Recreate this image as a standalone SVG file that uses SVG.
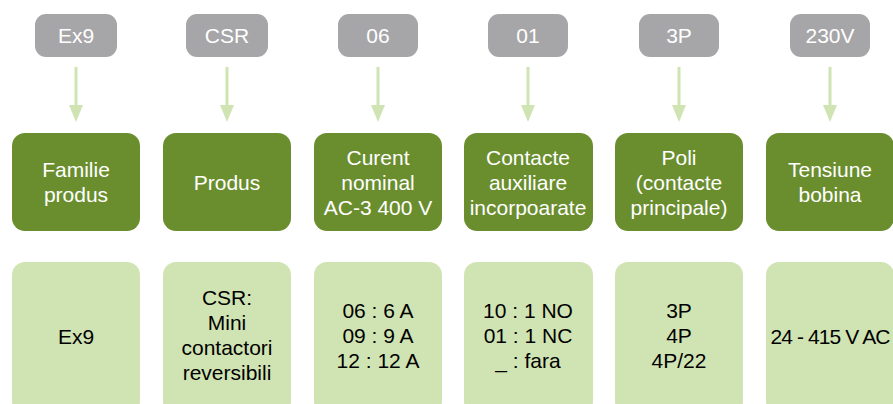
<svg xmlns="http://www.w3.org/2000/svg" width="893" height="404" viewBox="0 0 893 404">
<style>
.pill{fill:#A6A6A9}
.dark{fill:#6A8E2E}
.light{fill:#D0E4B3}
.pt{font-family:"Liberation Sans",Arial,sans-serif;font-size:21px;fill:#FFFFFF;text-anchor:middle}
.dt{font-family:"Liberation Sans",Arial,sans-serif;font-size:21px;fill:#FFFFFF;text-anchor:middle}
.lt{font-family:"Liberation Sans",Arial,sans-serif;font-size:21px;fill:#000000;text-anchor:middle}
.conn line{stroke:#D0E4B3;stroke-width:3}
.conn polygon{fill:#D0E4B3}
</style>
<rect width="893" height="404" fill="#FFFFFF"/>
<g id="connectors" class="conn">
<line x1="76" y1="67" x2="76" y2="107"/><polygon points="69,105 83,105 76,122"/>
<line x1="227" y1="67" x2="227" y2="107"/><polygon points="220,105 234,105 227,122"/>
<line x1="378" y1="67" x2="378" y2="107"/><polygon points="371,105 385,105 378,122"/>
<line x1="528" y1="67" x2="528" y2="107"/><polygon points="521,105 535,105 528,122"/>
<line x1="679" y1="67" x2="679" y2="107"/><polygon points="672,105 686,105 679,122"/>
<line x1="830" y1="67" x2="830" y2="107"/><polygon points="823,105 837,105 830,122"/>
</g>
<g id="pill-ex9"><rect class="pill" x="35" y="14" width="82" height="43" rx="11"/><text class="pt" x="76" y="43">Ex9</text></g>
<g id="pill-csr"><rect class="pill" x="186" y="14" width="82" height="43" rx="11"/><text class="pt" x="227" y="43">CSR</text></g>
<g id="pill-06"><rect class="pill" x="338" y="14" width="80" height="43" rx="11"/><text class="pt" x="378" y="43">06</text></g>
<g id="pill-01"><rect class="pill" x="488" y="14" width="80" height="43" rx="11"/><text class="pt" x="528" y="43">01</text></g>
<g id="pill-3p"><rect class="pill" x="639" y="14" width="80" height="43" rx="11"/><text class="pt" x="679" y="43">3P</text></g>
<g id="pill-230v"><rect class="pill" x="790" y="14" width="80" height="43" rx="11"/><text class="pt" x="830" y="43">230V</text></g>

<g id="head-familie"><rect class="dark" x="12" y="133" width="128" height="98" rx="13"/><text class="dt" x="76" y="177">Familie</text><text class="dt" x="76" y="202">produs</text></g>
<g id="head-produs"><rect class="dark" x="163" y="133" width="128" height="98" rx="13"/><text class="dt" x="227" y="190">Produs</text></g>
<g id="head-curent"><rect class="dark" x="314" y="133" width="128" height="98" rx="13"/><text class="dt" x="378" y="165">Curent</text><text class="dt" x="378" y="190">nominal</text><text class="dt" x="378" y="215">AC-3 400 V</text></g>
<g id="head-contacte"><rect class="dark" x="464" y="133" width="129" height="98" rx="13"/><text class="dt" x="528" y="165">Contacte</text><text class="dt" x="528" y="190">auxiliare</text><text class="dt" x="528" y="215">incorpoarate</text></g>
<g id="head-poli"><rect class="dark" x="615" y="133" width="128" height="98" rx="13"/><text class="dt" x="679" y="165">Poli</text><text class="dt" x="679" y="190">(contacte</text><text class="dt" x="679" y="215">principale)</text></g>
<g id="head-tensiune"><rect class="dark" x="766" y="133" width="128" height="98" rx="13"/><text class="dt" x="830" y="177">Tensiune</text><text class="dt" x="830" y="202">bobina</text></g>

<g id="val-familie"><rect class="light" x="12" y="262" width="128" height="152" rx="13"/><text class="lt" x="76" y="344">Ex9</text></g>
<g id="val-produs"><rect class="light" x="163" y="262" width="128" height="152" rx="13"/><text class="lt" x="227" y="305">CSR:</text><text class="lt" x="227" y="330">Mini</text><text class="lt" x="227" y="355">contactori</text><text class="lt" x="227" y="380">reversibili</text></g>
<g id="val-curent"><rect class="light" x="314" y="262" width="128" height="152" rx="13"/><text class="lt" x="378" y="318">06 : 6 A</text><text class="lt" x="378" y="343">09 : 9 A</text><text class="lt" x="378" y="368">12 : 12 A</text></g>
<g id="val-contacte"><rect class="light" x="464" y="262" width="129" height="152" rx="13"/><text class="lt" x="528" y="318">10 : 1 NO</text><text class="lt" x="528" y="343">01 : 1 NC</text><text class="lt" x="528" y="368">_ : fara</text></g>
<g id="val-poli"><rect class="light" x="615" y="262" width="128" height="152" rx="13"/><text class="lt" x="679" y="318">3P</text><text class="lt" x="679" y="343">4P</text><text class="lt" x="679" y="368">4P/22</text></g>
<g id="val-tensiune"><rect class="light" x="766" y="262" width="128" height="152" rx="13"/><text class="lt" x="830" y="344" letter-spacing="-0.9">24 - 415 V AC</text></g>
</svg>
